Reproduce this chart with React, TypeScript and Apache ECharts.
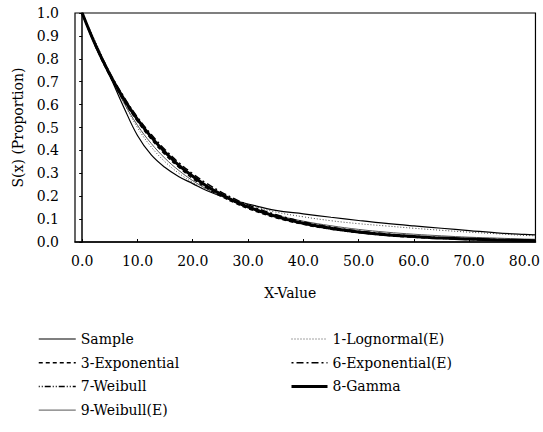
import React, { useEffect, useRef } from "react";
import * as echarts from "echarts";

const xs = [0, 2.5, 5, 7.5, 10, 12.5, 15, 17.5, 20, 22.5, 25, 27.5, 30, 35, 40, 45, 50, 55, 60, 65, 70, 75, 80, 82];

const sample = [1, 0.85, 0.725, 0.59, 0.465, 0.38, 0.325, 0.285, 0.255, 0.225, 0.202, 0.182, 0.166, 0.138, 0.123, 0.108, 0.094, 0.081, 0.07, 0.06, 0.05, 0.04, 0.033, 0.031];
const exponential3 = [1, 0.852, 0.726, 0.618, 0.527, 0.449, 0.382, 0.326, 0.277, 0.236, 0.201, 0.172, 0.146, 0.106, 0.077, 0.056, 0.041, 0.029, 0.021, 0.016, 0.011, 0.0082, 0.0059, 0.0052];
const weibull7 = [1, 0.85, 0.728, 0.622, 0.532, 0.455, 0.389, 0.332, 0.284, 0.242, 0.207, 0.177, 0.151, 0.11, 0.08, 0.058, 0.042, 0.031, 0.022, 0.016, 0.012, 0.0085, 0.006, 0.0054];
const weibullE9 = [1, 0.86, 0.73, 0.61, 0.51, 0.43, 0.365, 0.312, 0.268, 0.232, 0.202, 0.176, 0.154, 0.118, 0.091, 0.071, 0.055, 0.043, 0.034, 0.027, 0.021, 0.017, 0.013, 0.012];
const lognormalE1 = [1, 0.87, 0.735, 0.61, 0.5, 0.415, 0.35, 0.3, 0.26, 0.228, 0.203, 0.181, 0.163, 0.131, 0.11, 0.093, 0.08, 0.07, 0.06, 0.051, 0.043, 0.036, 0.029, 0.027];
const exponentialE6 = [1, 0.86, 0.739, 0.635, 0.545, 0.469, 0.403, 0.346, 0.298, 0.256, 0.22, 0.189, 0.162, 0.12, 0.088, 0.065, 0.048, 0.036, 0.026, 0.019, 0.014, 0.011, 0.0078, 0.0069];
const gamma8 = [1, 0.855, 0.732, 0.626, 0.535, 0.458, 0.392, 0.335, 0.287, 0.245, 0.21, 0.179, 0.153, 0.112, 0.082, 0.06, 0.044, 0.032, 0.024, 0.017, 0.013, 0.0092, 0.0067, 0.006];

const xTicks = [0, 10, 20, 30, 40, 50, 60, 70, 80];

const legendLeft = ["Sample", "3-Exponential", "7-Weibull", "9-Weibull(E)"];
const legendRight = ["1-Lognormal(E)", "6-Exponential(E)", "8-Gamma"];

const FONT = "DejaVu Serif";
const FS = 14;

type Style = { width: number; type: any; color: string };
const styles: Record<string, Style> = {
  "Sample": { width: 1.2, type: "solid", color: "#000" },
  "1-Lognormal(E)": { width: 1, type: [1, 2], color: "#444" },
  "9-Weibull(E)": { width: 1, type: "solid", color: "#555" },
  "3-Exponential": { width: 1.5, type: [4, 3], color: "#000" },
  "6-Exponential(E)": { width: 1.5, type: [2, 3, 7, 3], color: "#000" },
  "7-Weibull": { width: 1.5, type: [1, 2, 1, 2, 6, 2], color: "#000" },
  "8-Gamma": { width: 3, type: "solid", color: "#000" },
};

export default function App() {
  const ref = useRef<HTMLDivElement>(null);
  useEffect(() => {
    if (!ref.current) return;
    const chart = echarts.init(ref.current, undefined, { renderer: "svg" });
    const pts = (vals: number[]) => xs.map((x, i) => [x, vals[i]]);
    const mk = (name: string, vals: number[], z = 2) => ({
      name,
      type: "line",
      data: pts(vals),
      smooth: 0.4,
      symbol: "none",
      z,
      lineStyle: { ...styles[name] },
      itemStyle: { color: styles[name].color },
    });
    const legItem = (name: string) => ({
      name,
      lineStyle: { ...styles[name] },
      itemStyle: { opacity: 0 },
    });
    const legendBase = {
      orient: "vertical",
      itemWidth: 37,
      itemHeight: 16,
      align: "left",
      textStyle: { fontFamily: FONT, fontSize: FS, color: "#000", lineHeight: 16 },
      itemStyle: { opacity: 0 },
      selectedMode: false,
    };
    chart.setOption({
      animation: false,
      backgroundColor: "#fff",
      textStyle: { fontFamily: FONT },
      grid: { left: 75, right: 4, top: 13, bottom: 190, show: true, borderColor: "#000", borderWidth: 1.2 },
      legend: [
        { ...legendBase, data: legendLeft.map(legItem), left: 33, top: 326, itemGap: 7.7 },
        { ...legendBase, data: legendRight.map(legItem), left: 285, top: 326, itemWidth: 36, itemGap: 7.7 },
      ],
      xAxis: {
        type: "value",
        min: -1.3,
        max: 82,
        name: "X-Value",
        nameLocation: "middle",
        nameGap: 44,
        nameTextStyle: { fontFamily: FONT, fontSize: FS, color: "#000", padding: [0, 30, 0, 0] },
        axisLine: { show: true, lineStyle: { color: "#000", width: 1.5 } },
        axisTick: { show: true, inside: true, length: 3, customValues: xTicks, lineStyle: { color: "#000" } },
        axisLabel: {
          customValues: xTicks,
          formatter: (v: number) => v.toFixed(1),
          fontFamily: FONT,
          fontSize: FS,
          color: "#000",
          margin: 12,
        },
        splitLine: { show: false },
      },
      yAxis: {
        type: "value",
        min: 0,
        max: 1,
        interval: 0.1,
        name: "S(x) (Proportion)",
        nameLocation: "middle",
        nameGap: 50,
        nameTextStyle: { fontFamily: FONT, fontSize: FS, color: "#000" },
        axisLine: { show: true, lineStyle: { color: "#000", width: 1.5 } },
        axisTick: { show: true, inside: false, length: 3, lineStyle: { color: "#000" } },
        axisLabel: {
          formatter: (v: number) => v.toFixed(1),
          fontFamily: FONT,
          fontSize: FS,
          color: "#000",
          margin: 16,
        },
        splitLine: { show: false },
      },
      series: [
        mk("Sample", sample),
        mk("1-Lognormal(E)", lognormalE1),
        mk("9-Weibull(E)", weibullE9),
        mk("3-Exponential", exponential3),
        mk("6-Exponential(E)", exponentialE6),
        mk("7-Weibull", weibull7),
        mk("8-Gamma", gamma8, 3),
      ],
    });
    return () => chart.dispose();
  }, []);
  return <div ref={ref} style={{ position: "fixed", left: 0, top: 0, width: 543, height: 432 }} />;
}
